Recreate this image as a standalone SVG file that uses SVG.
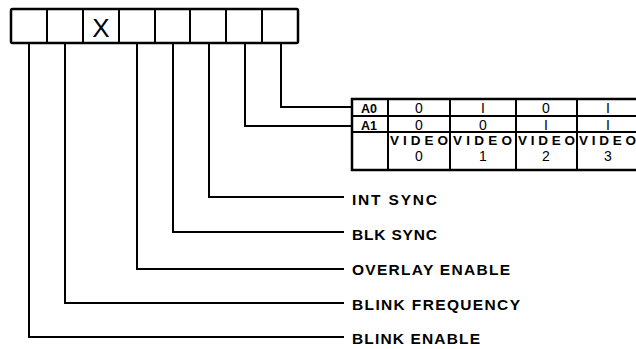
<svg xmlns="http://www.w3.org/2000/svg" width="636" height="349" viewBox="0 0 636 349">
<style>
.box{fill:#fff;stroke:#000;stroke-width:2.5}
.ln{fill:none;stroke:#000;stroke-width:2;stroke-linejoin:miter}
.lbl{font-family:"Liberation Sans",Arial,sans-serif;font-size:15.5px;font-weight:bold;fill:#000}
.tb{font-family:"Liberation Sans",Arial,sans-serif;font-size:12.5px;font-weight:bold;fill:#000;text-anchor:middle}
.vid{font-family:"Liberation Sans",Arial,sans-serif;font-size:13.5px;font-weight:bold;fill:#000}
.dig{font-family:"Liberation Sans",Arial,sans-serif;font-size:14px;fill:#000;text-anchor:middle}
.x{font-family:"Liberation Sans",Arial,sans-serif;font-size:26px;fill:#000;text-anchor:middle}
</style>
<rect width="636" height="349" fill="#fff"/>
<g id="register">
<rect class="box" x="11" y="9" width="287" height="34" rx="1.5"/>
<path class="ln" d="M47 9V43M83 9V43M119 9V43M155 9V43M190 9V43M226 9V43M262 9V43" stroke-width="2.5"/>
<text class="x" x="101" y="37">X</text>
</g>
<g id="connectors">
<path class="ln" d="M281 43V107H352"/>
<path class="ln" d="M245 43V126H352"/>
<path class="ln" d="M209 43V197H344"/>
<path class="ln" d="M173 43V232H344"/>
<path class="ln" d="M137 43V269H344"/>
<path class="ln" d="M65 43V303H344"/>
<path class="ln" d="M29 43V337H344"/>
</g>
<g id="table">
<rect class="box" x="352" y="99" width="290" height="71" stroke-width="2.2"/>
<path class="ln" d="M352 116H642M352 132H642M388 99V170M450 99V170M516 99V170M577 99V170"/>
<text class="tb" x="369" y="113">A0</text>
<text class="tb" x="369" y="129.5">A1</text>
<text class="dig" x="419" y="113">0</text>
<text class="dig" x="483" y="113">I</text>
<text class="dig" x="546" y="113">0</text>
<text class="dig" x="608" y="113">I</text>
<text class="dig" x="419" y="129.5">0</text>
<text class="dig" x="483" y="129.5">0</text>
<text class="dig" x="546" y="129.5">I</text>
<text class="dig" x="608" y="129.5">I</text>
<text class="vid" x="390" y="144.5" textLength="58" lengthAdjust="spacing">VIDEO</text>
<text class="vid" x="453" y="144.5" textLength="59" lengthAdjust="spacing">VIDEO</text>
<text class="vid" x="518" y="144.5" textLength="57" lengthAdjust="spacing">VIDEO</text>
<text class="vid" x="579" y="144.5" textLength="57" lengthAdjust="spacing">VIDEO</text>
<text class="dig" x="419" y="160.5">0</text>
<text class="dig" x="483" y="160.5">1</text>
<text class="dig" x="546" y="160.5">2</text>
<text class="dig" x="608" y="160.5">3</text>
</g>
<g id="int-sync"><text class="lbl" x="352" y="205" textLength="85" lengthAdjust="spacing">INT SYNC</text></g>
<g id="blk-sync"><text class="lbl" x="352" y="240" textLength="85" lengthAdjust="spacing">BLK SYNC</text></g>
<g id="overlay-enable"><text class="lbl" x="352" y="275" textLength="158" lengthAdjust="spacing">OVERLAY ENABLE</text></g>
<g id="blink-frequency"><text class="lbl" x="352" y="310" textLength="168" lengthAdjust="spacing">BLINK FREQUENCY</text></g>
<g id="blink-enable"><text class="lbl" x="352" y="344" textLength="128" lengthAdjust="spacing">BLINK ENABLE</text></g>
</svg>
